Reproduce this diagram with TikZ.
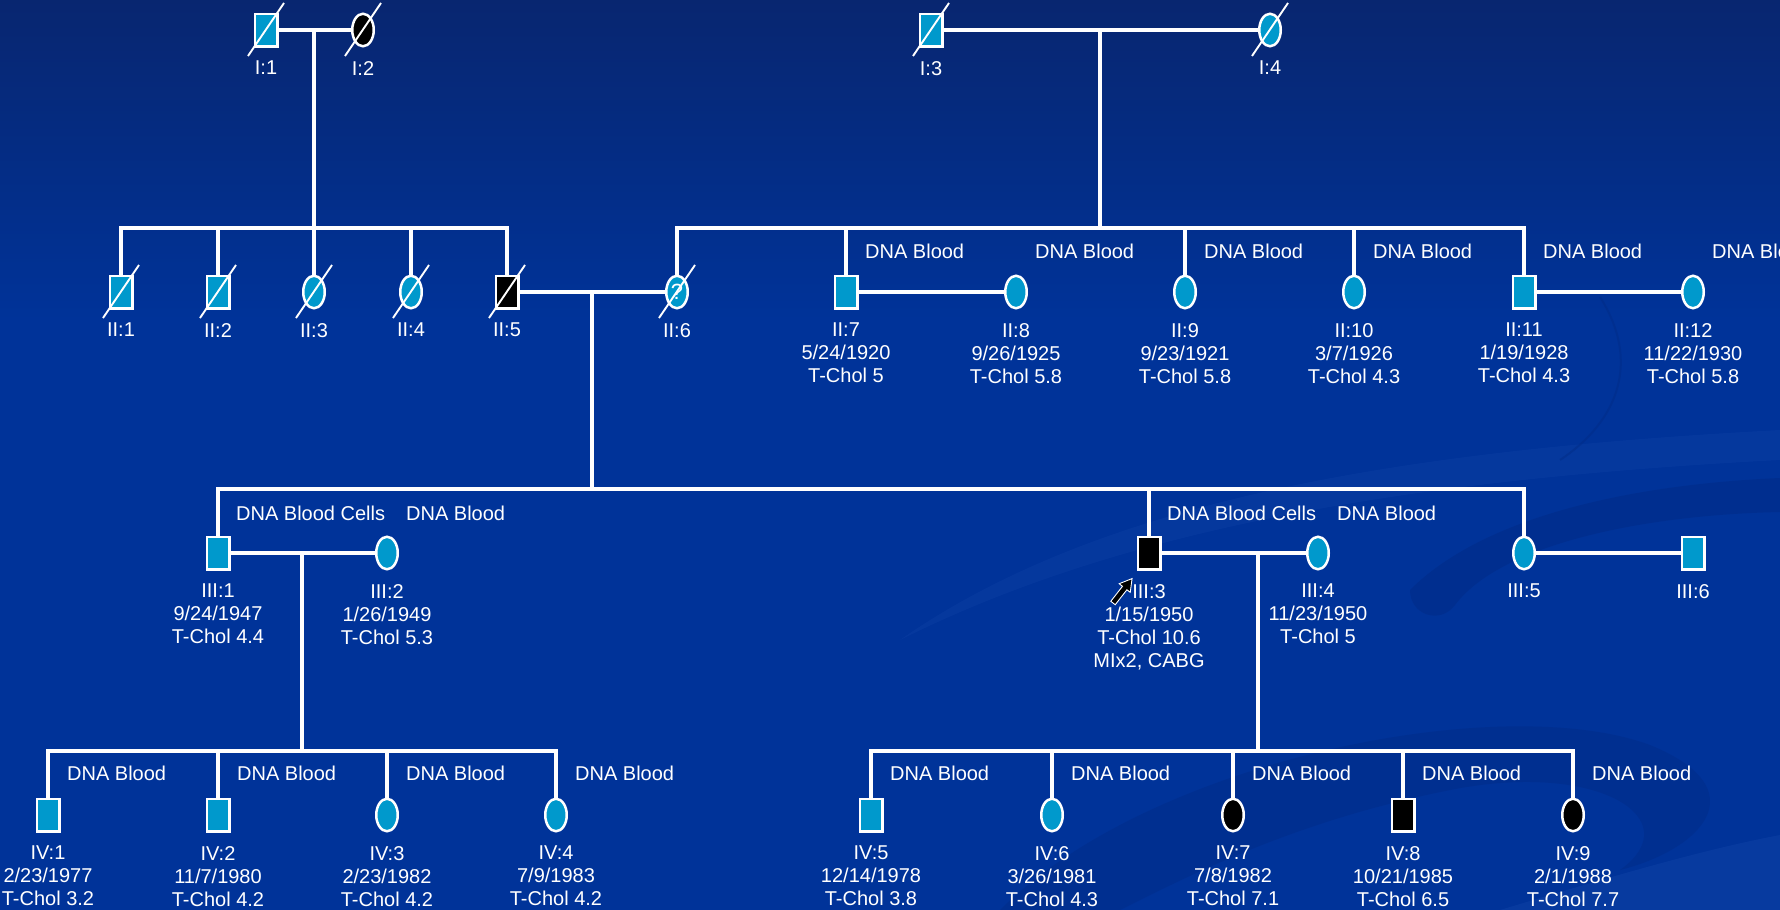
\documentclass[tikz,border=0pt]{standalone}
\usepackage{fontspec}
\setmainfont{Liberation Sans}
\usetikzlibrary{shapes.geometric,calc}
\definecolor{bgtop}{RGB}{8,38,112}
\definecolor{bgmain}{RGB}{0,51,153}
\definecolor{symblue}{RGB}{0,153,204}
\definecolor{swirldark}{RGB}{0,40,128}
\definecolor{swirllight}{RGB}{25,75,175}
\newcommand\deceased[1]{\draw[slash] ($(#1.center)+(-18,26)$) -- ($(#1.center)+(18,-27)$);}
\begin{document}
\begin{tikzpicture}[x=1pt,y=-1pt,
  every node/.style={font=\fontsize{20}{23}\selectfont, text=white},
  sym/.style={draw=white, line width=2.5pt, fill=symblue, inner sep=0pt},
  male/.style={sym, rectangle, minimum width=22.5pt, minimum height=32.5pt},
  female/.style={sym, ellipse, minimum width=21.5pt, minimum height=32.5pt},
  aff/.style={fill=black},
  lab/.style={anchor=north, align=center, inner sep=0pt},
  dna/.style={anchor=west, inner sep=0pt},
  link/.style={draw=white, line width=3.2pt},
  slash/.style={draw=white, line width=1.9pt},
]
\useasboundingbox (0,0) rectangle (1780,910);
% background
\shade[top color=bgtop, bottom color=bgmain] (0,0) rectangle (1780,320);
\fill[bgmain] (0,319) rectangle (1780,910);
\fill[swirllight, opacity=0.22] (900,640) .. controls (1100,500) and (1400,450) .. (1780,430) -- (1780,460) .. controls (1400,480) and (1120,530) .. (900,640) -- cycle;
\fill[swirldark, opacity=0.4] (1410,590) .. controls (1480,520) and (1620,485) .. (1780,478) -- (1780,512) .. controls (1640,515) and (1500,545) .. (1455,605) .. controls (1440,625) and (1410,615) .. cycle;
\draw[swirldark, line width=2pt, opacity=0.35] (1600,297) .. controls (1640,360) and (1620,420) .. (1560,460);
\fill[swirldark, opacity=0.35] (1000,910) .. controls (1150,760) and (1500,690) .. (1650,745) .. controls (1760,790) and (1700,850) .. (1620,870) .. controls (1690,820) and (1600,760) .. (1450,790) .. controls (1300,820) and (1200,870) .. (1120,910) -- cycle;
\fill[swirllight, opacity=0.3] (1500,910) .. controls (1600,880) and (1700,850) .. (1780,835) -- (1780,910) -- cycle;

% Generation I
\node[male] (I1) at (266,30) {};
\node[female,aff] (I2) at (363,30) {};
\node[male] (I3) at (931,30) {};
\node[female] (I4) at (1270,30) {};
% Generation II
\node[male] (II1) at (121,292) {};
\node[male] (II2) at (218,292) {};
\node[female] (II3) at (314,292) {};
\node[female] (II4) at (411,292) {};
\node[male,aff] (II5) at (507,292) {};
\node[female,font=\fontsize{22}{22}\selectfont] (II6) at (677,292) {?};
\node[male] (II7) at (846,292) {};
\node[female] (II8) at (1016,292) {};
\node[female] (II9) at (1185,292) {};
\node[female] (II10) at (1354,292) {};
\node[male] (II11) at (1524,292) {};
\node[female] (II12) at (1693,292) {};
% Generation III
\node[male] (III1) at (218,553) {};
\node[female] (III2) at (387,553) {};
\node[male,aff] (III3) at (1149,553) {};
\node[female] (III4) at (1318,553) {};
\node[female] (III5) at (1524,553) {};
\node[male] (III6) at (1693,553) {};
% Generation IV
\node[male] (IV1) at (48,815) {};
\node[male] (IV2) at (218,815) {};
\node[female] (IV3) at (387,815) {};
\node[female] (IV4) at (556,815) {};
\node[male] (IV5) at (871,815) {};
\node[female] (IV6) at (1052,815) {};
\node[female,aff] (IV7) at (1233,815) {};
\node[male,aff] (IV8) at (1403,815) {};
\node[female,aff] (IV9) at (1573,815) {};

% deceased marks
\deceased{I1}\deceased{I2}\deceased{I3}\deceased{I4}
\deceased{II1}\deceased{II2}\deceased{II3}\deceased{II4}\deceased{II5}\deceased{II6}

% coordinates
\coordinate (m1) at (314,30);
\coordinate (s1) at (314,228);
\coordinate (m2) at (1100,30);
\coordinate (s2) at (1100,228);
\coordinate (m3) at (592,292);
\coordinate (s3) at (592,489);
\coordinate (m4) at (302,553);
\coordinate (s4) at (302,751);
\coordinate (m5) at (1258,553);
\coordinate (s5) at (1258,751);

% connectors
\draw[link] (I1.east) -- (I2.west);
\draw[link] (m1) -- (s1);
\draw[link] (II1.north) |- (s1) -| (II5.north);
\draw[link] (II2.north) -- (II2.north |- s1);
\draw[link] (II3.north) -- (II3.north |- s1);
\draw[link] (II4.north) -- (II4.north |- s1);

\draw[link] (I3.east) -- (I4.west);
\draw[link] (m2) -- (s2);
\draw[link] (II6.north) |- (s2) -| (II11.north);
\draw[link] (II7.north) -- (II7.north |- s2);
\draw[link] (II9.north) -- (II9.north |- s2);
\draw[link] (II10.north) -- (II10.north |- s2);

\draw[link] (II5.east) -- (II6.west);
\draw[link] (II7.east) -- (II8.west);
\draw[link] (II11.east) -- (II12.west);
\draw[link] (m3) -- (s3);
\draw[link] (III1.north) |- (s3) -| (III5.north);
\draw[link] (III3.north) -- (III3.north |- s3);

\draw[link] (III1.east) -- (III2.west);
\draw[link] (III3.east) -- (III4.west);
\draw[link] (III5.east) -- (III6.west);
\draw[link] (m4) -- (s4);
\draw[link] (m5) -- (s5);
\draw[link] (IV1.north) |- (s4) -| (IV4.north);
\draw[link] (IV2.north) -- (IV2.north |- s4);
\draw[link] (IV3.north) -- (IV3.north |- s4);
\draw[link] (IV5.north) |- (s5) -| (IV9.north);
\draw[link] (IV6.north) -- (IV6.north |- s5);
\draw[link] (IV7.north) -- (IV7.north |- s5);
\draw[link] (IV8.north) -- (IV8.north |- s5);

% labels
\node[lab] (I1l) at ($(I1.center)+(0,31)$) {I:1};
\node[lab] (I2l) at ($(I2.center)+(0,31)$) {I:2};
\node[lab] (I3l) at ($(I3.center)+(0,31)$) {I:3};
\node[lab] (I4l) at ($(I4.center)+(0,31)$) {I:4};

\node[lab] (II1l) at ($(II1.center)+(0,31)$) {II:1};
\node[lab] (II2l) at ($(II2.center)+(0,31)$) {II:2};
\node[lab] (II3l) at ($(II3.center)+(0,31)$) {II:3};
\node[lab] (II4l) at ($(II4.center)+(0,31)$) {II:4};
\node[lab] (II5l) at ($(II5.center)+(0,31)$) {II:5};
\node[lab] (II6l) at ($(II6.center)+(0,31)$) {II:6};
\node[lab] (II7l) at ($(II7.center)+(0,31)$) {II:7\\5/24/1920\\T-Chol 5};
\node[lab] (II8l) at ($(II8.center)+(0,31)$) {II:8\\9/26/1925\\T-Chol 5.8};
\node[lab] (II9l) at ($(II9.center)+(0,31)$) {II:9\\9/23/1921\\T-Chol 5.8};
\node[lab] (II10l) at ($(II10.center)+(0,31)$) {II:10\\3/7/1926\\T-Chol 4.3};
\node[lab] (II11l) at ($(II11.center)+(0,31)$) {II:11\\1/19/1928\\T-Chol 4.3};
\node[lab] (II12l) at ($(II12.center)+(0,31)$) {II:12\\11/22/1930\\T-Chol 5.8};

\node[lab] (III1l) at ($(III1.center)+(0,31)$) {III:1\\9/24/1947\\T-Chol 4.4};
\node[lab] (III2l) at ($(III2.center)+(0,31)$) {III:2\\1/26/1949\\T-Chol 5.3};
\node[lab] (III3l) at ($(III3.center)+(0,31)$) {III:3\\1/15/1950\\T-Chol 10.6\\MIx2, CABG};
\node[lab] (III4l) at ($(III4.center)+(0,31)$) {III:4\\11/23/1950\\T-Chol 5};
\node[lab] (III5l) at ($(III5.center)+(0,31)$) {III:5};
\node[lab] (III6l) at ($(III6.center)+(0,31)$) {III:6};

\node[lab] (IV1l) at ($(IV1.center)+(0,31)$) {IV:1\\2/23/1977\\T-Chol 3.2};
\node[lab] (IV2l) at ($(IV2.center)+(0,31)$) {IV:2\\11/7/1980\\T-Chol 4.2};
\node[lab] (IV3l) at ($(IV3.center)+(0,31)$) {IV:3\\2/23/1982\\T-Chol 4.2};
\node[lab] (IV4l) at ($(IV4.center)+(0,31)$) {IV:4\\7/9/1983\\T-Chol 4.2};
\node[lab] (IV5l) at ($(IV5.center)+(0,31)$) {IV:5\\12/14/1978\\T-Chol 3.8};
\node[lab] (IV6l) at ($(IV6.center)+(0,31)$) {IV:6\\3/26/1981\\T-Chol 4.3};
\node[lab] (IV7l) at ($(IV7.center)+(0,31)$) {IV:7\\7/8/1982\\T-Chol 7.1};
\node[lab] (IV8l) at ($(IV8.center)+(0,31)$) {IV:8\\10/21/1985\\T-Chol 6.5};
\node[lab] (IV9l) at ($(IV9.center)+(0,31)$) {IV:9\\2/1/1988\\T-Chol 7.7};

% sample labels
\node[dna] (II7d) at ($(II7.center)+(19,-41)$) {DNA Blood};
\node[dna] (II8d) at ($(II8.center)+(19,-41)$) {DNA Blood};
\node[dna] (II9d) at ($(II9.center)+(19,-41)$) {DNA Blood};
\node[dna] (II10d) at ($(II10.center)+(19,-41)$) {DNA Blood};
\node[dna] (II11d) at ($(II11.center)+(19,-41)$) {DNA Blood};
\node[dna] (II12d) at ($(II12.center)+(19,-41)$) {DNA Blood};
\node[dna] (III1d) at ($(III1.center)+(18,-40)$) {DNA Blood Cells};
\node[dna] (III2d) at ($(III2.center)+(19,-40)$) {DNA Blood};
\node[dna] (III3d) at ($(III3.center)+(18,-40)$) {DNA Blood Cells};
\node[dna] (III4d) at ($(III4.center)+(19,-40)$) {DNA Blood};
\node[dna] (IV1d) at ($(IV1.center)+(19,-42)$) {DNA Blood};
\node[dna] (IV2d) at ($(IV2.center)+(19,-42)$) {DNA Blood};
\node[dna] (IV3d) at ($(IV3.center)+(19,-42)$) {DNA Blood};
\node[dna] (IV4d) at ($(IV4.center)+(19,-42)$) {DNA Blood};
\node[dna] (IV5d) at ($(IV5.center)+(19,-42)$) {DNA Blood};
\node[dna] (IV6d) at ($(IV6.center)+(19,-42)$) {DNA Blood};
\node[dna] (IV7d) at ($(IV7.center)+(19,-42)$) {DNA Blood};
\node[dna] (IV8d) at ($(IV8.center)+(19,-42)$) {DNA Blood};
\node[dna] (IV9d) at ($(IV9.center)+(19,-42)$) {DNA Blood};

% proband arrow
\begin{scope}[shift={(1113,603)}, rotate=52]
\filldraw[fill=black, draw=white, line width=0.9pt, line join=miter]
  (0,-2.8) -- (19,-2.8) -- (19,-7) -- (31,0) -- (19,7) -- (19,2.8) -- (0,2.8) -- cycle;
\end{scope}
\end{tikzpicture}
\end{document}
